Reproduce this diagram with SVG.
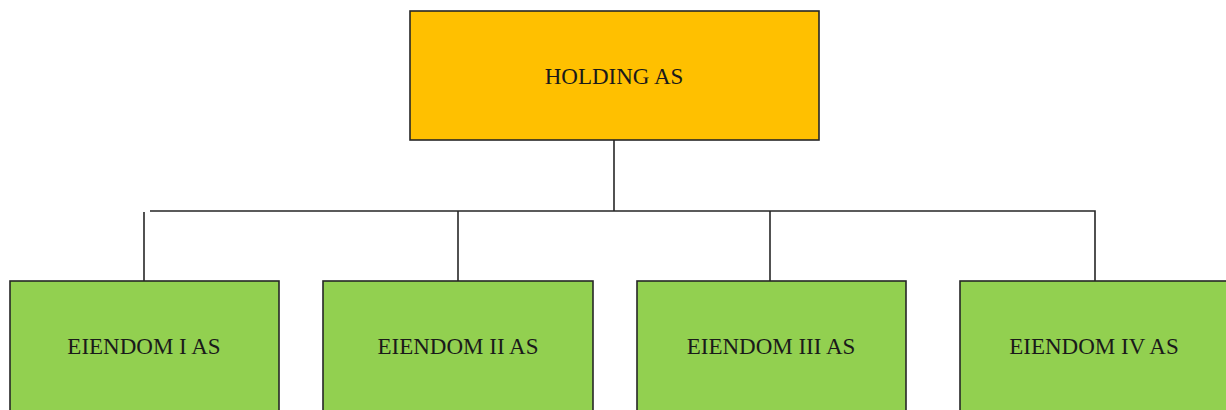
<svg xmlns="http://www.w3.org/2000/svg" width="1226" height="410" viewBox="0 0 1226 410">
<style>
.box{stroke:#262626;stroke-width:1.6}
.top{fill:#FFC000}
.sub{fill:#92D050}
.lbl{font-family:"Liberation Serif","Times New Roman",serif;font-size:23px;fill:#1a1a1a;text-anchor:middle}
.con{fill:none;stroke:#262626;stroke-width:1.6}
</style>
<rect width="1226" height="410" fill="#ffffff"/>
<g id="connectors">
<path class="con" d="M614 140 V211"/>
<path class="con" d="M150 211 H1095 V281"/>
<path class="con" d="M144 212 V281"/>
<path class="con" d="M458 211 V281"/>
<path class="con" d="M770 211 V281"/>
</g>
<g id="holding">
<rect class="box top" x="410" y="11" width="409" height="129"/>
<text class="lbl" x="614" y="84">HOLDING AS</text>
</g>
<g id="eiendom1">
<rect class="box sub" x="10" y="281" width="269" height="140"/>
<text class="lbl" x="144" y="354">EIENDOM I AS</text>
</g>
<g id="eiendom2">
<rect class="box sub" x="323" y="281" width="270" height="140"/>
<text class="lbl" x="458" y="354">EIENDOM II AS</text>
</g>
<g id="eiendom3">
<rect class="box sub" x="637" y="281" width="269" height="140"/>
<text class="lbl" x="771" y="354">EIENDOM III AS</text>
</g>
<g id="eiendom4">
<rect class="box sub" x="960" y="281" width="280" height="140"/>
<text class="lbl" x="1094" y="354">EIENDOM IV AS</text>
</g>
</svg>
